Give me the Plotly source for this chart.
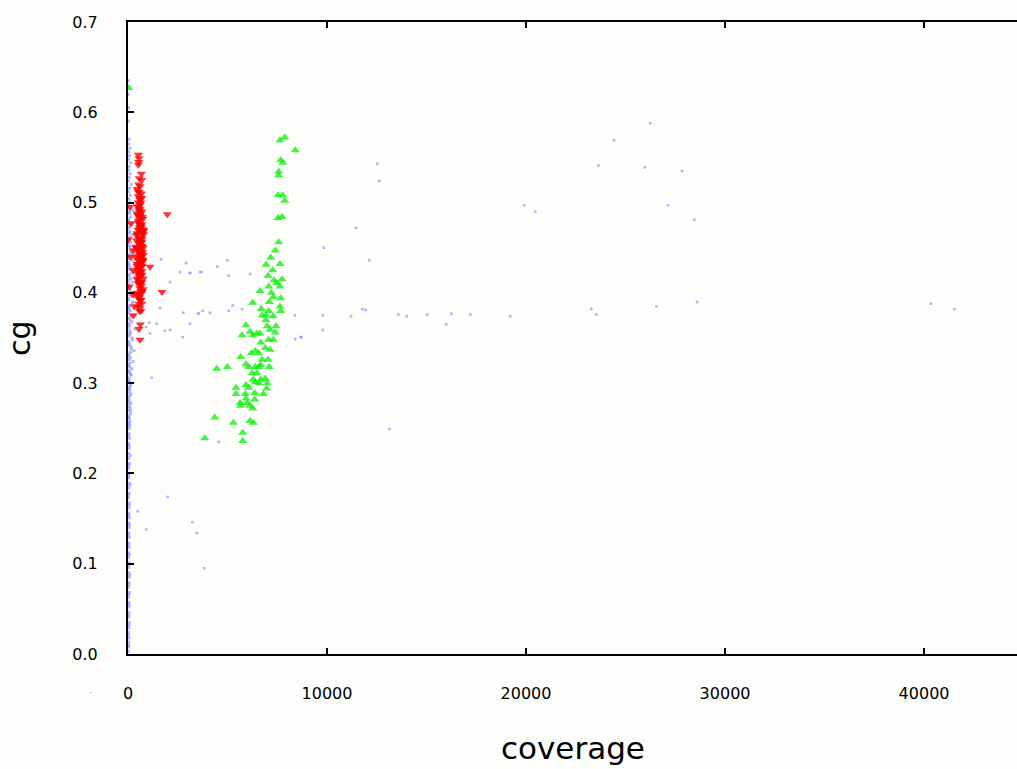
import plotly.graph_objects as go

# ---------------- data ----------------
# light-blue dots: dense column near coverage 0
col_x = [15,40,25,55,20,35,60,30,45,18,50,28,65,22,38,58,26,44,70,20,36,52,30,62,24,48,34,75,28,42,60,22,50,36,80,26,46,32,68,40,24,56,30,85,44,60,
         30,90,50,120,20,70,140,40,100,60,25,130,80,45,110,
         75,15,105,35,150,90,20,
         60,180,30,250,110,20,300,150,70,220,40,130,350,90,190,25,270,120,55,210,
         35,160,290,80,20,230,140,60,320,100,45,200,25,170,260,75,130,30,240,95,
         50,180,25,140,70,210,35,110,
         15,90,45,160,20,75,25,110,15,65,20,120,40,15,85,20,55,100,15,60,95,15,60,20,
         40,120,20,80,160,30,60,100,25,50,140,20,70,35,90,25,45,
         10,15,8,12,
         35,20,50,30,65,25,45,80,30,55,20,40,70,35,60,25,90,45,30,110,50,25,75,40,130,60,30,95,45,170,70,35,120,55,200,85,40,150,60,240,30,100,45,180,70,25,140,35,90]
col_y = [0.003,0.008,0.013,0.018,0.024,0.029,0.035,0.041,0.046,0.052,0.057,0.063,0.068,0.074,0.079,0.085,0.090,0.096,0.101,0.107,0.112,0.118,0.123,0.129,0.134,0.140,0.145,0.151,0.156,0.162,0.167,0.173,0.178,0.184,0.189,0.195,0.200,0.206,0.211,0.217,0.222,0.228,0.233,0.239,0.244,0.250,
         0.254,0.258,0.262,0.266,0.270,0.274,0.278,0.282,0.286,0.290,0.294,0.298,0.302,0.306,0.310,
         0.256,0.264,0.272,0.280,0.288,0.296,0.304,
         0.312,0.316,0.320,0.324,0.328,0.332,0.336,0.340,0.344,0.348,0.352,0.356,0.360,0.364,0.368,0.372,0.376,0.380,0.384,0.388,
         0.392,0.396,0.400,0.404,0.408,0.412,0.416,0.420,0.424,0.428,0.432,0.436,0.440,0.444,0.448,0.452,0.456,0.460,0.464,0.468,
         0.472,0.476,0.480,0.484,0.488,0.492,0.496,0.500,
         0.314,0.322,0.330,0.338,0.346,0.354,0.362,0.370,0.378,0.386,0.394,0.402,0.410,0.418,0.426,0.434,0.442,0.450,0.458,0.466,0.474,0.482,0.490,0.498,
         0.504,0.508,0.512,0.516,0.520,0.524,0.528,0.532,0.536,0.540,0.544,0.548,0.552,0.556,0.560,0.565,0.570,
         0.590,0.605,0.620,0.635,
         0.010,0.021,0.032,0.043,0.054,0.066,0.077,0.088,0.099,0.110,0.121,0.132,0.143,0.154,0.165,0.176,0.187,0.198,0.209,0.220,0.231,0.242,0.253,0.261,0.269,0.277,0.285,0.293,0.301,0.309,0.318,0.326,0.334,0.342,0.350,0.358,0.366,0.374,0.382,0.390,0.398,0.406,0.414,0.422,0.430,0.438,0.446,0.454,0.462]

# light-blue dots: sparse scatter
sc_x = [12527,12628,19914,20467,23633,25964,27839,27135,28457,11457,9834,12125,11774,11925,9784,11206,13583,14005,15040,16246,
        17201,19211,15995,23281,23532,26547,28592,9784,8708,13130,26246,24422,40336,41522,3116,3618,4990,4487,5060,6131,
        3533,3754,4121,5060,5261,5729,3116,8377,8407,8678,4558,1995,487,920,3231,3452,3834,1191,1658,2613,
        2915,3116,3703,2111,1608,2779,3533,1070,1442,1859,2111,2749,1106,905]
sc_y = [0.543,0.524,0.497,0.490,0.541,0.539,0.535,0.497,0.481,0.472,0.450,0.436,0.382,0.381,0.375,0.374,0.376,0.374,0.376,0.377,
        0.376,0.374,0.365,0.382,0.376,0.385,0.390,0.359,0.351,0.249,0.588,0.569,0.388,0.382,0.422,0.423,0.436,0.429,0.419,0.421,
        0.377,0.380,0.378,0.380,0.386,0.382,0.366,0.375,0.349,0.351,0.235,0.174,0.158,0.138,0.146,0.134,0.095,0.306,0.437,0.423,
        0.433,0.422,0.423,0.412,0.383,0.378,0.377,0.367,0.366,0.358,0.359,0.351,0.355,0.362]

# red downward triangles
red_x = [518,553,538,518,668,568,688,603,568,518,603,100,603,1975,603,150,603,769,467,15,603,402,688,266,769,136,518,1105,688,266,
         769,518,65,1709,518,266,317,603,266,603,
         500,650,550,700,450,600,750,520,680,580,720,480,640,560,700,530,620,760,470,590,670,540,720,610,500,650,570,700,520,620,
         460,680,560,600,640,520,580,660,540,700,730,780,440,410,800,380,620,560,500,660,600,700,580,620,650,550,500,600,760,700,
         480,560,640,720,520,600,680,760,440,540,620,700,500,580,660,740,470,550,630,710,510,590,670,750,450,530,610,690,
         490,570,650,730,430,510,590,670,480,560,640,720,520,600,680,460,540,620,700,500,580,660,560,620,680,600]
red_y = [0.553,0.549,0.545,0.542,0.532,0.527,0.525,0.518,0.512,0.507,0.505,0.495,0.493,0.487,0.484,0.477,0.473,0.469,0.466,0.459,
         0.459,0.451,0.451,0.447,0.442,0.440,0.436,0.429,0.429,0.425,0.416,0.411,0.407,0.401,0.398,0.398,0.385,0.383,0.375,0.348,
         0.500,0.500,0.495,0.490,0.488,0.485,0.482,0.478,0.476,0.472,0.468,0.465,0.462,0.460,0.457,0.455,0.452,0.450,0.448,0.445,
         0.443,0.440,0.437,0.434,0.432,0.430,0.427,0.424,0.421,0.418,0.415,0.412,0.409,0.405,0.402,0.399,0.395,0.392,0.388,0.460,
         0.445,0.465,0.430,0.450,0.470,0.440,0.475,0.490,0.470,0.455,0.420,0.400,0.380,0.365,0.380,0.360,0.385,0.410,0.435,0.430,
         0.496,0.492,0.488,0.484,0.480,0.476,0.472,0.468,0.464,0.460,0.456,0.452,0.448,0.444,0.440,0.436,0.432,0.428,0.424,0.420,
         0.416,0.412,0.408,0.404,0.400,0.396,0.392,0.388,0.486,0.482,0.474,0.466,0.458,0.450,0.442,0.434,0.426,0.418,0.410,0.402,
         0.394,0.503,0.510,0.515,0.520,0.498,0.505,0.512,0.470,0.446,0.422,0.438]

# green upward triangles
green_x = [7638,7874,8407,7673,7774,7573,7573,7538,7774,7874,7538,7739,7573,7402,7171,6935,7638,7035,7271,7337,
           7070,7472,7739,7638,6633,7201,7301,7673,7100,6266,6698,7638,7673,7070,6935,7301,6734,5930,6131,5729,
           6266,6467,6633,6935,7000,7136,7437,7402,7070,7301,6668,6899,7136,6397,6196,6568,5663,6734,7035,5930,
           6065,6397,6568,7100,6668,4457,4990,6231,6467,6296,6668,6899,6598,6397,7000,5930,5427,6065,6970,5427,
           5894,6367,6799,5930,5628,5995,6367,5663,6131,6266,4357,5291,6131,6296,5764,3854,5764,40]
green_y = [0.569,0.572,0.558,0.547,0.544,0.534,0.530,0.508,0.508,0.502,0.483,0.484,0.456,0.447,0.439,0.431,0.432,0.419,0.425,0.414,
           0.407,0.411,0.415,0.407,0.402,0.400,0.395,0.394,0.390,0.389,0.382,0.385,0.380,0.380,0.375,0.374,0.375,0.364,0.357,0.353,
           0.353,0.355,0.355,0.370,0.363,0.359,0.363,0.356,0.348,0.348,0.345,0.339,0.337,0.336,0.333,0.333,0.329,0.326,0.326,0.321,
           0.318,0.318,0.318,0.318,0.320,0.316,0.318,0.311,0.311,0.304,0.304,0.305,0.300,0.301,0.300,0.298,0.295,0.295,0.294,0.288,
           0.288,0.289,0.288,0.283,0.278,0.278,0.282,0.275,0.275,0.272,0.262,0.256,0.258,0.256,0.245,0.239,0.236,0.627]

y_ticks = [0.0, 0.1, 0.2, 0.3, 0.4, 0.5, 0.6, 0.7]
x_ticks = [0, 10000, 20000, 30000, 40000]

# ---------------- figure ----------------
fig = go.Figure()
blue = dict(symbol="square", size=3, color="rgba(150,150,255,0.7)", line=dict(width=0))
fig.add_trace(go.Scatter(x=col_x, y=col_y, mode="markers", marker=blue, showlegend=False))
fig.add_trace(go.Scatter(x=sc_x, y=sc_y, mode="markers", showlegend=False,
                         marker=dict(symbol="square", size=2.5, color="rgba(140,140,255,0.7)", line=dict(width=0))))
fig.add_trace(go.Scatter(x=red_x, y=red_y, mode="markers", showlegend=False,
                         marker=dict(symbol="triangle-down", size=8, color="rgba(255,0,0,0.8)", line=dict(width=0))))
fig.add_trace(go.Scatter(x=green_x, y=green_y, mode="markers", showlegend=False,
                         marker=dict(symbol="triangle-up", size=8, color="rgba(0,240,0,0.75)", line=dict(width=0))))

bg = "#fdfdfc"
fig.update_layout(
    width=1017, height=769,
    margin=dict(l=128, r=0, t=22, b=115),
    paper_bgcolor=bg, plot_bgcolor=bg,
    font=dict(family="DejaVu Sans", size=16, color="black"),
    xaxis=dict(range=[0, 44670], tickvals=x_ticks, ticktext=[str(v) for v in x_ticks],
               showgrid=False, zeroline=False, showline=True, linecolor="black", linewidth=2,
               mirror="ticks", ticks="inside", ticklen=6, tickwidth=2, tickcolor="black",
               ticklabelstandoff=24),
    yaxis=dict(range=[0, 0.7], tickvals=y_ticks, ticktext=[f"{v:.1f}" for v in y_ticks],
               showgrid=False, zeroline=False, showline=True, linecolor="black", linewidth=2,
               mirror=False, ticks="inside", ticklen=6, tickwidth=2, tickcolor="black",
               ticklabelstandoff=25),
    annotations=[
        dict(text="coverage", xref="paper", yref="paper", x=0.5, y=-0.1487, xanchor="center",
             yanchor="middle", showarrow=False, font=dict(size=31)),
        dict(text="cg", xref="paper", yref="paper", x=-0.1226, y=0.5, xanchor="center",
             yanchor="middle", textangle=-90, showarrow=False, font=dict(size=30)),
        dict(text="·", xref="paper", yref="paper", x=-0.0427, y=-0.0617, xanchor="center",
             yanchor="middle", showarrow=False, font=dict(size=10, color="#888888")),
    ],
)

fig.write_html("out.html")
